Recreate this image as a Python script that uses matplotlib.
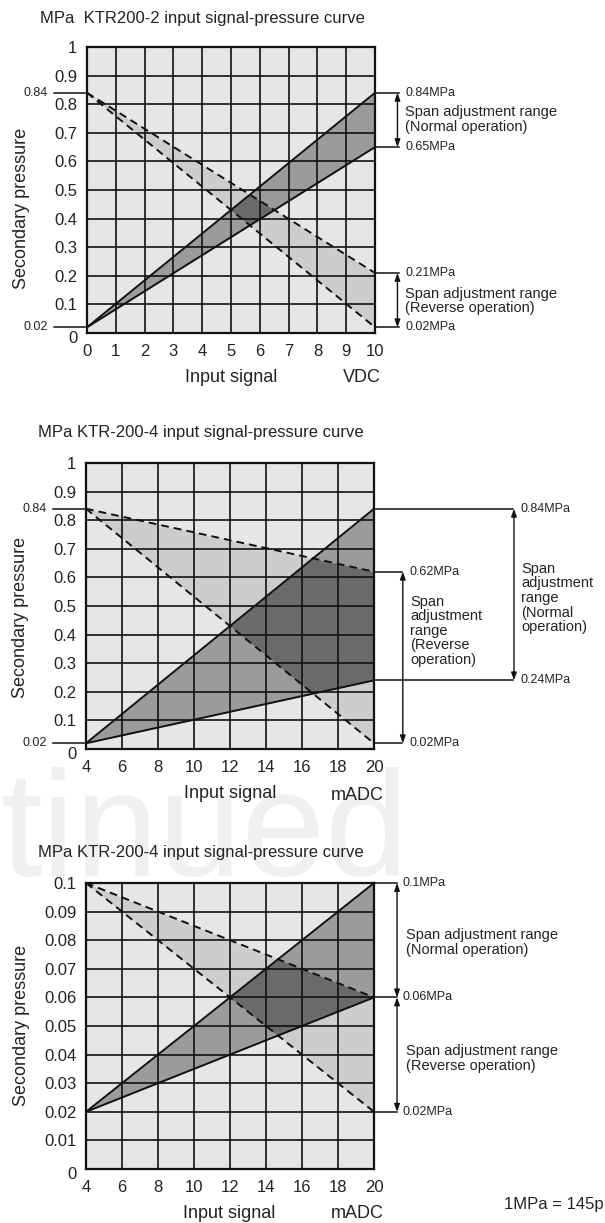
import numpy as np
import matplotlib
matplotlib.use("Agg")
import matplotlib.pyplot as plt
import matplotlib.transforms as mtransforms

plt.rcParams['font.family'] = ['Liberation Sans', 'DejaVu Sans']

# ---------------- data ----------------
titles = ["MPa  KTR200-2 input signal-pressure curve",
          "MPa KTR-200-4 input signal-pressure curve",
          "MPa KTR-200-4 input signal-pressure curve"]
units = ["VDC", "mADC", "mADC"]

p1_x = [0, 10]
p1_normal_high = [0.02, 0.84]
p1_normal_low = [0.02, 0.65]
p1_reverse_high = [0.84, 0.21]
p1_reverse_low = [0.84, 0.02]
p1_xticks = [0, 1, 2, 3, 4, 5, 6, 7, 8, 9, 10]
p1_yticks = [0, 0.1, 0.2, 0.3, 0.4, 0.5, 0.6, 0.7, 0.8, 0.9, 1.0]
p1_ylabels = ["0", "0.1", "0.2", "0.3", "0.4", "0.5", "0.6", "0.7", "0.8", "0.9", "1"]

p2_x = [4, 20]
p2_normal_high = [0.02, 0.84]
p2_normal_low = [0.02, 0.24]
p2_reverse_high = [0.84, 0.62]
p2_reverse_low = [0.84, 0.02]
p2_xticks = [4, 6, 8, 10, 12, 14, 16, 18, 20]
p2_yticks = p1_yticks
p2_ylabels = p1_ylabels

p3_x = [4, 20]
p3_normal_high = [0.02, 0.10]
p3_normal_low = [0.02, 0.06]
p3_reverse_high = [0.10, 0.06]
p3_reverse_low = [0.10, 0.02]
p3_xticks = [4, 6, 8, 10, 12, 14, 16, 18, 20]
p3_yticks = [0, 0.01, 0.02, 0.03, 0.04, 0.05, 0.06, 0.07, 0.08, 0.09, 0.10]
p3_ylabels = ["0", "0.01", "0.02", "0.03", "0.04", "0.05", "0.06", "0.07", "0.08", "0.09", "0.1"]

# ---------------- style ----------------
W, H = 605, 1223
C_BG = '#e6e6e6'
C_REV = '#cdcdcd'
C_NORM = '#9b9b9b'
C_BOTH = '#6a6a6a'
C_TXT = '#222222'

fig = plt.figure(figsize=(W / 100, H / 100), dpi=100)


def px(x, y):
    return x / W, 1 - y / H


def make_axes(l, t, r, b):
    return fig.add_axes([l / W, 1 - b / H, (r - l) / W, (b - t) / H])


def draw_panel(ax, x, nh, nl, rh, rl, xticks, yticks, ylabels):
    ax.set_facecolor(C_BG)
    ax.set_xlim(xticks[0], xticks[-1])
    ax.set_ylim(yticks[0], yticks[-1])
    xs = np.linspace(x[0], x[1], 600)
    nh_i = np.interp(xs, x, nh)
    nl_i = np.interp(xs, x, nl)
    rh_i = np.interp(xs, x, rh)
    rl_i = np.interp(xs, x, rl)
    ax.fill_between(xs, rl_i, rh_i, color=C_REV, lw=0, zorder=1)
    ax.fill_between(xs, nl_i, nh_i, color=C_NORM, lw=0, zorder=1.1)
    lo = np.maximum(nl_i, rl_i)
    hi = np.minimum(nh_i, rh_i)
    ax.fill_between(xs, lo, hi, where=hi >= lo, interpolate=True,
                    color=C_BOTH, lw=0, zorder=1.2)
    for xv in xticks[1:-1]:
        ax.axvline(xv, color='#111111', lw=1.2, zorder=2)
    for yv in yticks[1:-1]:
        ax.axhline(yv, color='#111111', lw=1.2, zorder=2)
    ax.plot(x, nh, color='#111111', lw=1.4, zorder=3)
    ax.plot(x, nl, color='#111111', lw=1.4, zorder=3)
    ax.plot(x, rh, color='#111111', lw=1.4, ls=(0, (4, 2.6)), zorder=3)
    ax.plot(x, rl, color='#111111', lw=1.4, ls=(0, (4, 2.6)), zorder=3)
    ax.set_xticks(xticks)
    ax.set_xticklabels([str(v) for v in xticks])
    ax.set_yticks(yticks)
    ax.set_yticklabels(ylabels)
    ax.tick_params(length=0, labelsize=12, colors=C_TXT)
    ax.tick_params(axis='y', pad=7)
    ax.tick_params(axis='x', pad=8)
    # the "0" label on the y axis sits slightly below the axis in the reference
    lab0 = ax.get_yticklabels()[0]
    lab0.set_transform(lab0.get_transform() +
                       mtransforms.ScaledTranslation(0, -4 / 100, fig.dpi_scale_trans))
    for s in ax.spines.values():
        s.set_linewidth(1.6)
        s.set_color('#111111')
        s.set_zorder(4)


def hline_out(ax, y, x0, x1):
    tr = mtransforms.blended_transform_factory(ax.transAxes, ax.transData)
    ax.plot([x0, x1], [y, y], color='#111111', lw=1.1, transform=tr, clip_on=False)


def arrow_out(ax, xa, y0, y1):
    tr = mtransforms.blended_transform_factory(ax.transAxes, ax.transData)
    ax.annotate('', xy=(xa, y0), xytext=(xa, y1), xycoords=tr, textcoords=tr,
                arrowprops=dict(arrowstyle='<|-|>,head_length=0.5,head_width=0.18',
                                mutation_scale=9, lw=1.0, color='#111111',
                                shrinkA=0, shrinkB=0))


def text_out(ax, xa, y, s, size=9, ha='left', **kw):
    tr = mtransforms.blended_transform_factory(ax.transAxes, ax.transData)
    ax.text(xa, y, s, transform=tr, fontsize=size, va='center', ha=ha,
            color=C_TXT, clip_on=False, **kw)


# background watermark (faint)
fig.text(*px(1, 876), "tinued", fontsize=108, color='#f0f0f0', ha='left',
         va='baseline', zorder=-1)

# ---------------- panel 1 ----------------
ax1 = make_axes(87, 47, 375, 333)
draw_panel(ax1, p1_x, p1_normal_high, p1_normal_low, p1_reverse_high, p1_reverse_low,
           p1_xticks, p1_yticks, p1_ylabels)
for yv, lab in [(0.84, "0.84"), (0.02, "0.02")]:
    hline_out(ax1, yv, -0.115, 0.0)
    text_out(ax1, -0.135, yv, lab, size=9, ha='right')
hline_out(ax1, 0.84, 1.0, 1.083)
hline_out(ax1, 0.65, 1.0, 1.083)
hline_out(ax1, 0.21, 1.0, 1.083)
hline_out(ax1, 0.02, 1.0, 1.083)
arrow_out(ax1, 1.078, 0.65, 0.84)
arrow_out(ax1, 1.078, 0.02, 0.21)
text_out(ax1, 1.105, 0.84, "0.84MPa")
text_out(ax1, 1.105, 0.65, "0.65MPa")
text_out(ax1, 1.105, 0.21, "0.21MPa")
text_out(ax1, 1.105, 0.02, "0.02MPa")
text_out(ax1, 1.105, 0.746, "Span adjustment range\n(Normal operation)", size=10.5, linespacing=1.05)
text_out(ax1, 1.105, 0.112, "Span adjustment range\n(Reverse operation)", size=10.5, linespacing=1.05)

fig.text(*px(40, 18), titles[0], fontsize=12, ha='left', va='center', color=C_TXT)
fig.text(*px(22, 208), "Secondary pressure", fontsize=13, rotation=90, ha='center', va='center', color=C_TXT)
fig.text(*px(231, 378), "Input signal", fontsize=13, ha='center', va='center', color=C_TXT)
fig.text(*px(362, 378), units[0], fontsize=13, ha='center', va='center', color=C_TXT)

# ---------------- panel 2 ----------------
ax2 = make_axes(86, 463, 374, 749)
draw_panel(ax2, p2_x, p2_normal_high, p2_normal_low, p2_reverse_high, p2_reverse_low,
           p2_xticks, p2_yticks, p2_ylabels)
for yv, lab in [(0.84, "0.84"), (0.02, "0.02")]:
    hline_out(ax2, yv, -0.115, 0.0)
    text_out(ax2, -0.135, yv, lab, size=9, ha='right')
hline_out(ax2, 0.84, 1.0, 1.483)
hline_out(ax2, 0.24, 1.0, 1.483)
hline_out(ax2, 0.62, 1.0, 1.097)
hline_out(ax2, 0.02, 1.0, 1.097)
arrow_out(ax2, 1.486, 0.24, 0.84)
arrow_out(ax2, 1.100, 0.02, 0.62)
text_out(ax2, 1.51, 0.84, "0.84MPa")
text_out(ax2, 1.51, 0.24, "0.24MPa")
text_out(ax2, 1.125, 0.62, "0.62MPa")
text_out(ax2, 1.125, 0.02, "0.02MPa")
text_out(ax2, 1.51, 0.528, "Span\nadjustment\nrange\n(Normal\noperation)", size=10.5, linespacing=1.05)
text_out(ax2, 1.125, 0.413, "Span\nadjustment\nrange\n(Reverse\noperation)", size=10.5, linespacing=1.05)

fig.text(*px(38, 433), titles[1], fontsize=12, ha='left', va='center', color=C_TXT)
fig.text(*px(21, 617), "Secondary pressure", fontsize=13, rotation=90, ha='center', va='center', color=C_TXT)
fig.text(*px(230, 794), "Input signal", fontsize=13, ha='center', va='center', color=C_TXT)
fig.text(*px(357, 796), units[1], fontsize=13, ha='center', va='center', color=C_TXT)

# ---------------- panel 3 ----------------
ax3 = make_axes(86, 883, 374, 1169)
draw_panel(ax3, p3_x, p3_normal_high, p3_normal_low, p3_reverse_high, p3_reverse_low,
           p3_xticks, p3_yticks, p3_ylabels)
hline_out(ax3, 0.10, 1.0, 1.08)
hline_out(ax3, 0.06, 1.0, 1.08)
hline_out(ax3, 0.02, 1.0, 1.08)
arrow_out(ax3, 1.08, 0.06, 0.10)
arrow_out(ax3, 1.08, 0.02, 0.06)
text_out(ax3, 1.10, 0.10, "0.1MPa")
text_out(ax3, 1.10, 0.06, "0.06MPa")
text_out(ax3, 1.10, 0.02, "0.02MPa")
text_out(ax3, 1.11, 0.0792, "Span adjustment range\n(Normal operation)", size=10.5, linespacing=1.05)
text_out(ax3, 1.11, 0.0387, "Span adjustment range\n(Reverse operation)", size=10.5, linespacing=1.05)

fig.text(*px(38, 853), titles[2], fontsize=12, ha='left', va='center', color=C_TXT)
fig.text(*px(22, 1025), "Secondary pressure", fontsize=13, rotation=90, ha='center', va='center', color=C_TXT)
fig.text(*px(229, 1213), "Input signal", fontsize=13, ha='center', va='center', color=C_TXT)
fig.text(*px(357, 1213), units[2], fontsize=13, ha='center', va='center', color=C_TXT)
fig.text(*px(504, 1205), "1MPa = 145p", fontsize=12, ha='left', va='center', color=C_TXT)

fig.savefig("out.png", dpi=100)
